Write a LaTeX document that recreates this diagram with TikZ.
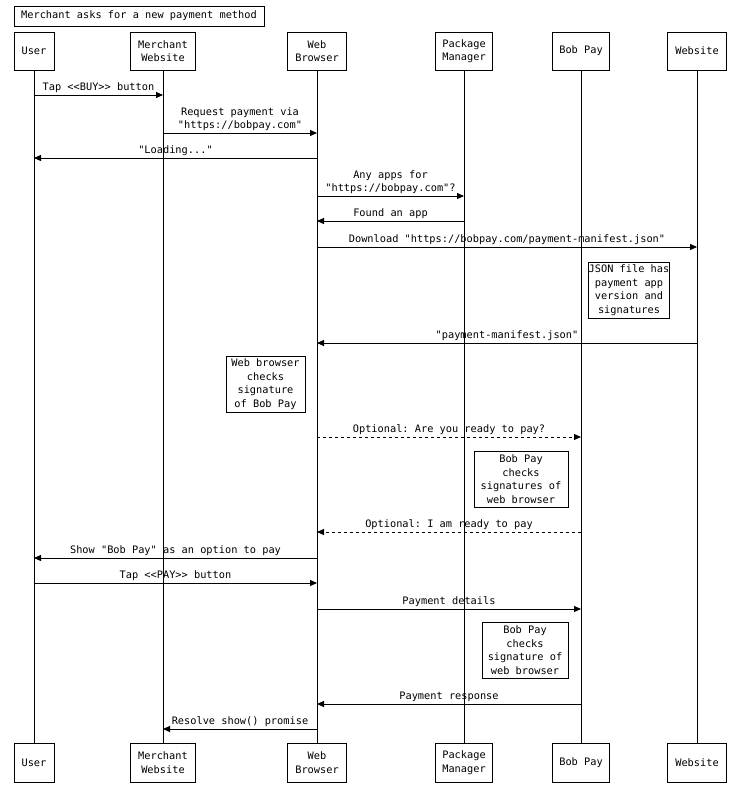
\documentclass[tikz,border=0pt]{standalone}
\usepackage{fontspec}
\setmonofont{DejaVu Sans Mono}
\usetikzlibrary{arrows.meta}
\begin{document}
\begin{tikzpicture}[x=1pt,y=-1pt,
  every node/.style={font=\ttfamily\fontsize{10.3}{13.5}\selectfont},
  part/.style={draw,line width=0.9pt,align=center,inner sep=0pt},
  note/.style={draw,line width=0.9pt,align=center,inner sep=0pt,fill=white},
  life/.style={line width=0.9pt},
  msg/.style={line width=0.9pt,-{Triangle[length=7pt,width=6pt]}},
  dmsg/.style={msg,dashed},
  lab/.style={above,inner sep=1.5pt,align=center}]
\useasboundingbox (0,0) rectangle (750,787);
\node[part,minimum width=250,minimum height=20] (title) at (139,16) {Merchant asks for a new payment method};
\foreach \n/\x/\w/\t in {u/34/40/User,m/163/65/{Merchant\\Website},b/317/59/{Web\\Browser},p/464/57/{Package\\Manager},bp/581/57/{Bob Pay},w/697/59/Website}{
  \node[part,minimum width=\w,minimum height=38] (\n) at (\x,51) {\t};
  \node[part,minimum width=\w,minimum height=39] (\n2) at (\x,762.5) {\t};
  \draw[life] (\n.south) -- (\n2.north);
}
\draw[msg] (u |- 0,95) -- node[lab]{Tap <<BUY>> button} (m |- 0,95);
\draw[msg] (m |- 0,133) -- node[lab]{Request payment via\\"https://bobpay.com"} (b |- 0,133);
\draw[msg] (b |- 0,158) -- node[lab]{"Loading..."} (u |- 0,158);
\draw[msg] (b |- 0,196) -- node[lab]{Any apps for\\"https://bobpay.com"?} (p |- 0,196);
\draw[msg] (p |- 0,221) -- node[lab]{Found an app} (b |- 0,221);
\draw[msg] (b |- 0,247) -- node[lab]{Download "https://bobpay.com/payment-manifest.json"} (w |- 0,247);
\node[note,minimum width=78,minimum height=56] (n1) at (629,290) {JSON file has\\payment app\\version and\\signatures};
\draw[msg] (w |- 0,343) -- node[lab]{"payment-manifest.json"} (b |- 0,343);
\node[note,minimum width=79,minimum height=56] (n2) at (265.5,384) {Web browser\\checks\\signature\\of Bob Pay};
\draw[dmsg] (b |- 0,437) -- node[lab]{Optional: Are you ready to pay?} (bp |- 0,437);
\node[note,minimum width=94,minimum height=56] (n3) at (521,479) {Bob Pay\\checks\\signatures of\\web browser};
\draw[dmsg] (bp |- 0,532) -- node[lab]{Optional: I am ready to pay} (b |- 0,532);
\draw[msg] (b |- 0,558) -- node[lab]{Show "Bob Pay" as an option to pay} (u |- 0,558);
\draw[msg] (u |- 0,583) -- node[lab]{Tap <<PAY>> button} (b |- 0,583);
\draw[msg] (b |- 0,609) -- node[lab]{Payment details} (bp |- 0,609);
\node[note,minimum width=86,minimum height=56] (n4) at (525,650) {Bob Pay\\checks\\signature of\\web browser};
\draw[msg] (bp |- 0,704) -- node[lab]{Payment response} (b |- 0,704);
\draw[msg] (b |- 0,729) -- node[lab]{Resolve show() promise} (m |- 0,729);
\end{tikzpicture}
\end{document}
